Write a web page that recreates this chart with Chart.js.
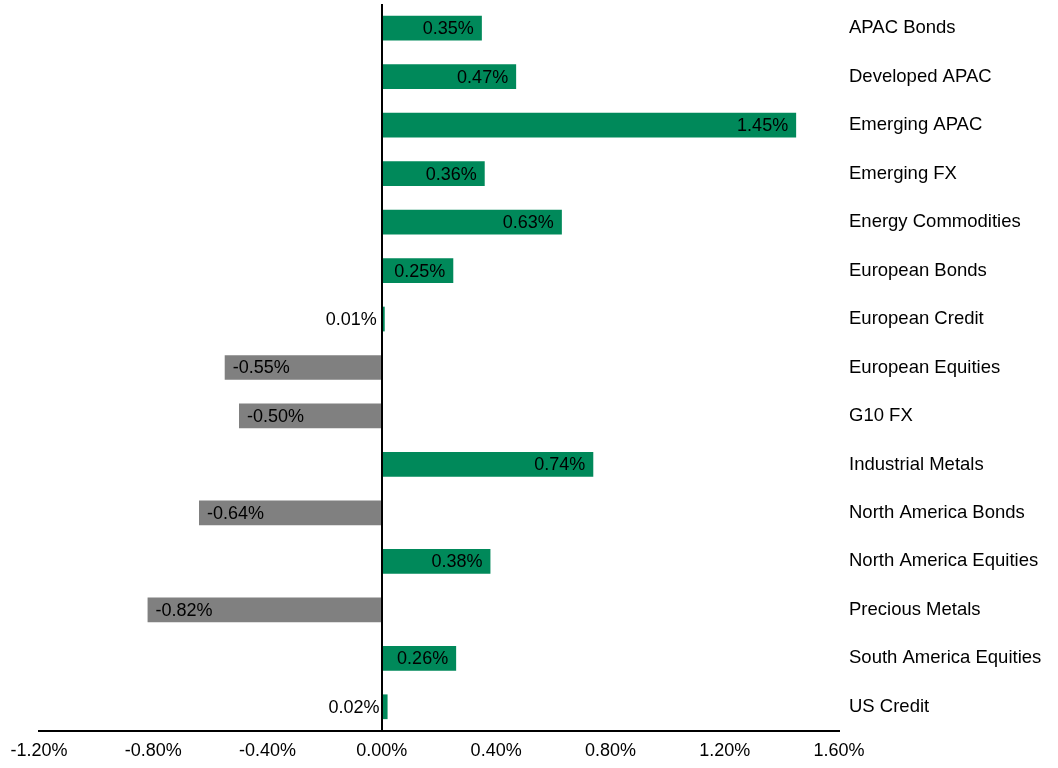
<!DOCTYPE html>
<html>
<head>
<meta charset="utf-8">
<script src="https://cdn.jsdelivr.net/npm/chart.js@4"></script>
<style>
  body { margin: 0; background: #fff; }
  #wrap { width: 1058px; height: 768px; position: relative; }
</style>
</head>
<body>
<div id="wrap"><canvas id="chart"></canvas></div>
<script>
const categories = ['APAC Bonds', 'Developed APAC', 'Emerging APAC', 'Emerging FX', 'Energy Commodities',
  'European Bonds', 'European Credit', 'European Equities', 'G10 FX', 'Industrial Metals',
  'North America Bonds', 'North America Equities', 'Precious Metals', 'South America Equities', 'US Credit']
const values = [0.35, 0.47, 1.45, 0.36, 0.63, 0.25, 0.01, -0.55, -0.50, 0.74, -0.64, 0.38, -0.82, 0.26, 0.02]
const tickValues = [-1.2, -0.8, -0.4, 0, 0.4, 0.8, 1.2, 1.6]

const green = '#00895A'
const grey = '#808080'
const font = 'Liberation Sans, Arial, sans-serif'

// zero line + value labels at the inner end of each bar
const barLabels = {
  id: 'barLabels',
  afterDatasetsDraw(chart) {
    const ctx = chart.ctx
    const x = chart.scales.x
    const area = chart.chartArea
    const zx = Math.round(x.getPixelForValue(0))
    ctx.save()
    ctx.strokeStyle = '#000'
    ctx.lineWidth = 2
    ctx.beginPath()
    ctx.moveTo(zx, area.top)
    ctx.lineTo(zx, area.bottom)
    ctx.stroke()

    ctx.font = '18px ' + font
    ctx.fillStyle = '#000'
    ctx.textBaseline = 'middle'
    const meta = chart.getDatasetMeta(0)
    meta.data.forEach((bar, i) => {
      const v = values[i]
      const txt = v.toFixed(2) + '%'
      if (v >= 0) {
        ctx.textAlign = 'right'
        ctx.fillText(txt, bar.x - 8, bar.y + 1)
      } else {
        ctx.textAlign = 'left'
        ctx.fillText(txt, bar.x + 8, bar.y + 1)
      }
    })
    ctx.restore()
  }
}

new Chart(document.getElementById('chart').getContext('2d'), {
  type: 'bar',
  data: {
    labels: categories,
    datasets: [{
      data: values,
      backgroundColor: values.map(v => v >= 0 ? green : grey),
      borderWidth: 0,
      categoryPercentage: 1,
      barPercentage: 0.51
    }]
  },
  options: {
    indexAxis: 'y',
    responsive: true,
    maintainAspectRatio: false,
    animation: false,
    layout: { padding: { left: 39, top: 4, bottom: 6, right: 0 } },
    plugins: {
      legend: { display: false },
      tooltip: { enabled: false }
    },
    scales: {
      x: {
        min: -1.2,
        max: 1.6,
        afterBuildTicks: axis => { axis.ticks = tickValues.map(v => ({ value: v })) },
        afterFit: axis => { axis.height = 31 },
        grid: { display: false, drawTicks: false },
        border: { display: true, color: '#000', width: 2 },
        ticks: {
          padding: 9,
          color: '#000',
          font: { family: font, size: 18 },
          callback: v => Number(v).toFixed(2) + '%'
        }
      },
      y: {
        position: 'right',
        grid: { display: false, drawTicks: false },
        border: { display: false },
        afterFit: axis => {
          axis.width = 219
          axis.paddingTop = 0
          axis.paddingBottom = 0
        },
        ticks: {
          padding: 10,
          color: '#000',
          font: { family: font, size: 18.5 }
        }
      }
    }
  },
  plugins: [barLabels]
})
</script>
</body>
</html>
